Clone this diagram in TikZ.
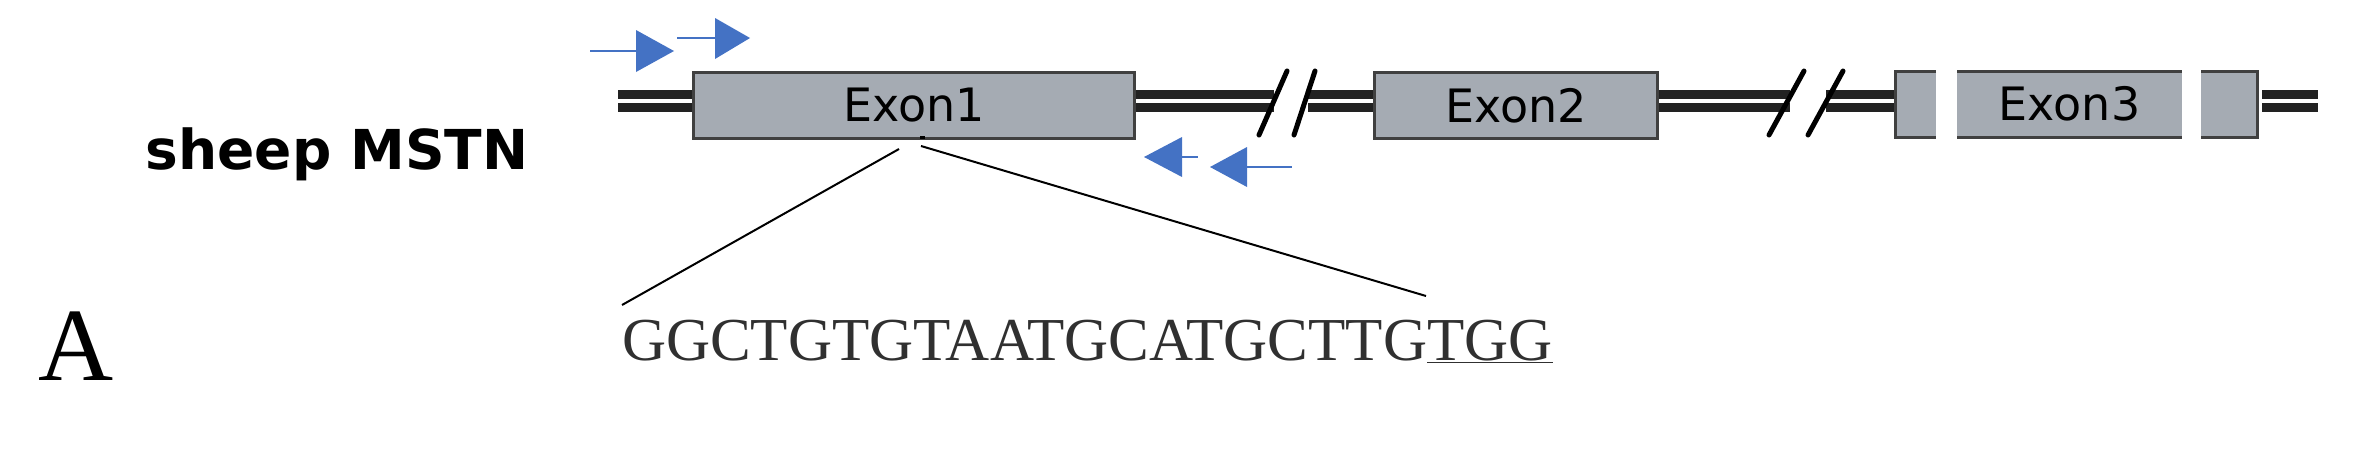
\documentclass[tikz,border=0pt]{standalone}
\usepackage{fontspec}
\setmainfont{Liberation Serif}
\newfontfamily\dejavu{DejaVu Sans}
\begin{document}
\begin{tikzpicture}[x=1pt,y=-1pt,
  exonbox/.style={fill=exfill,draw=exedge,line width=3pt},
  bb/.style={line width=9pt,draw=bbcol},
  slash/.style={line width=5pt,line cap=round},
  primer/.style={draw=pblue,line width=2.5pt},
  phead/.style={fill=pblue},
  exlabel/.style={font=\dejavu\fontsize{46}{46}\selectfont,inner sep=0pt}]
\definecolor{exfill}{HTML}{A5ABB3}
\definecolor{exedge}{HTML}{404040}
\definecolor{bbcol}{HTML}{222222}
\definecolor{pblue}{HTML}{4472C4}
\definecolor{seqc}{HTML}{303030}
\useasboundingbox (0,0) rectangle (2368,453);
% backbone
\foreach \yy in {94.5,107.5}{
  \draw[bb] (618,\yy) -- (692,\yy);
  \draw[bb] (1133,\yy) -- (1274,\yy);
  \draw[bb] (1308,\yy) -- (1373,\yy);
  \draw[bb] (1656,\yy) -- (1790,\yy);
  \draw[bb] (1826,\yy) -- (1895,\yy);
  \draw[bb] (2262,\yy) -- (2318,\yy);
}
% breaks
\draw[slash] (1259,135) -- (1287,71);
\draw[slash] (1294,135) -- (1315,71);
\draw[slash] (1769,135) -- (1804,71);
\draw[slash] (1808,135) -- (1843,71);
% exons
\node[exonbox,minimum width=441pt,minimum height=66pt,anchor=north west,inner sep=0pt] (ex1) at (692,71) {};
\node[exlabel] (ex1t) at (ex1.center) {Exon1};
\node[exonbox,minimum width=283pt,minimum height=66pt,anchor=north west,inner sep=0pt] (ex2) at (1373,71) {};
\node[exlabel] (ex2t) at (ex2.center) {Exon2};
% exon3 in three pieces
\fill[exfill] (1895,71) rectangle (1936,137);
\draw[exedge,line width=3pt] (1936,71) -- (1895,71) -- (1895,137) -- (1936,137);
\fill[exfill] (1957,71) rectangle (2182,137);
\draw[exedge,line width=3pt] (1957,71) -- (2182,71);
\draw[exedge,line width=3pt] (1957,137) -- (2182,137);
\fill[exfill] (2201,71) rectangle (2257,137);
\draw[exedge,line width=3pt] (2201,71) -- (2257,71) -- (2257,137) -- (2201,137);
\node[exlabel] (ex3t) at (2069.5,104) {Exon3};
% primers
\draw[primer] (590,51) -- (637,51);
\fill[phead] (636,30) -- (674,51) -- (636,72) -- cycle;
\draw[primer] (677,38) -- (716,38);
\fill[phead] (715,18) -- (750,38) -- (715,59) -- cycle;
\draw[primer] (1181,157) -- (1198,157);
\fill[phead] (1182,137) -- (1144,157) -- (1182,177) -- cycle;
\draw[primer] (1246,167) -- (1292,167);
\fill[phead] (1247,147) -- (1210,167) -- (1247,187) -- cycle;
% labels
\node[font=\dejavu\bfseries\fontsize{55}{55}\selectfont,inner sep=0pt] (lab) at (337,154) {sheep MSTN};
\node[font=\fontsize{104}{104}\selectfont,inner sep=0pt,anchor=base west] (A) at (38,380) {A};
\node[font=\fontsize{61}{61}\selectfont,text=seqc,inner sep=0pt,anchor=base west] (seq) at (622,360) {GGCTGTGTAATGCATGCTTG\underline{TGG}};
% zoom lines
\coordinate (z1) at (899,149);
\coordinate (z2) at (921,146);
\coordinate (s1) at (622,305);
\coordinate (s2) at (1426,296);
\fill (920,136) rectangle (925,139);
\draw[line width=2pt] (z1) -- (s1);
\draw[line width=2pt] (z2) -- (s2);
\end{tikzpicture}
\end{document}
